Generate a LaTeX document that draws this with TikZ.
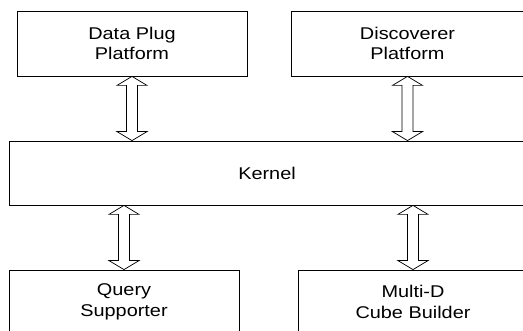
\documentclass[tikz,border=0pt]{standalone}
\usepackage{fontspec}
\setmainfont{Liberation Sans}[FakeStretch=1.17]
\usetikzlibrary{calc}
\tikzset{
  box/.style={draw, line width=0.8pt, align=center, inner sep=0pt,
    font=\fontsize{17}{20.5}\selectfont},
  biarrow/.style={draw, line width=0.7pt, line join=miter, to path={
    let \p1=(\tikztostart), \p2=(\tikztotarget) in
    (\x1,\y1) -- (\x1+15pt,\y1-9pt) -- (\x1+5.5pt,\y1-9pt)
    -- (\x1+5.5pt,\y2+9pt) -- (\x1+15pt,\y2+9pt) -- (\x1,\y2)
    -- (\x1-15pt,\y2+9pt) -- (\x1-5.5pt,\y2+9pt)
    -- (\x1-5.5pt,\y1-9pt) -- (\x1-15pt,\y1-9pt) -- cycle}}
}
\begin{document}
\begin{tikzpicture}[x=1pt, y=-1pt]
  \useasboundingbox (0,0) rectangle (523,331);
  \clip (0,0) rectangle (523,331);
  % upper platforms
  \node[box, minimum width=230pt, minimum height=65pt] (dp) at (132,43.5) {Data Plug\\Platform};
  \node[box, minimum width=233pt, minimum height=65pt] (ds) at (407.5,43.5) {Discoverer\\Platform};
  % kernel
  \node[box, minimum width=516pt, minimum height=64pt] (kernel) at (267,173) {Kernel};
  % lower components
  \node[box, minimum width=230pt, minimum height=64pt] (qs) at (124,302) {Query\\Supporter};
  \node[box, minimum width=230pt, minimum height=64pt] (mc) at (413,302) {Multi-D\\Cube Builder};
  % two-way links to the kernel
  \draw[biarrow] (dp.south) to (dp.south |- kernel.north);
  \draw[biarrow] (ds.south) to (ds.south |- kernel.north);
  \draw[biarrow] (kernel.south -| qs.north) to (qs.north);
  \draw[biarrow] (kernel.south -| mc.north) to (mc.north);
\end{tikzpicture}
\end{document}
